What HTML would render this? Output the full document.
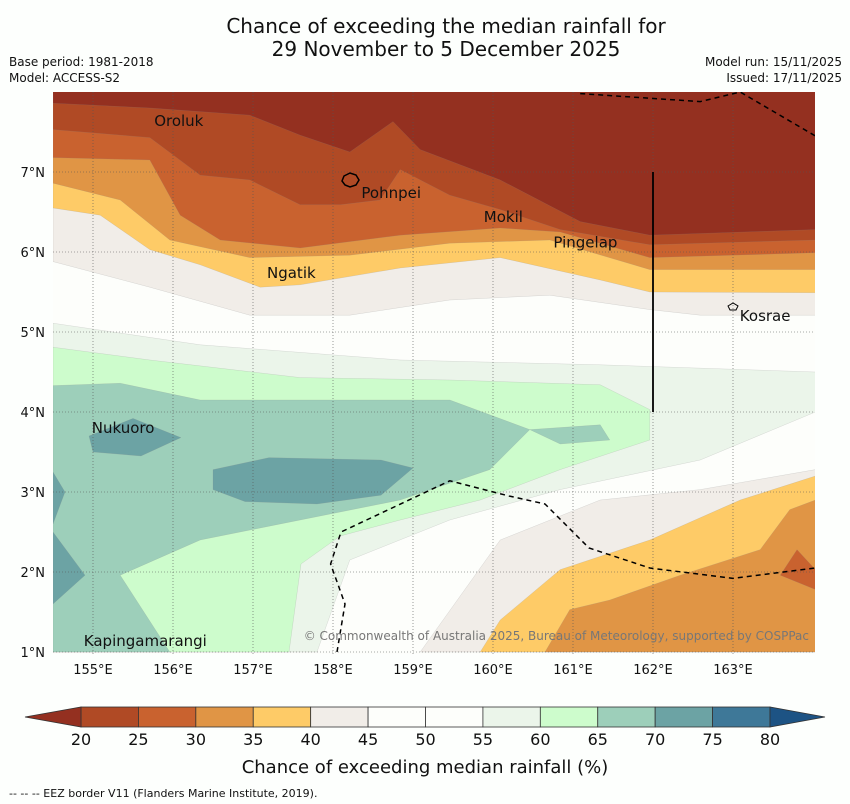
<!DOCTYPE html>
<html><head><meta charset="utf-8">
<style>
body{margin:0;background:#fdfffd;font-family:"Liberation Sans","DejaVu Sans",sans-serif;}
svg{display:block}
</style></head>
<body>
<svg id="chart" width="850" height="804" viewBox="0 0 850 804" xmlns="http://www.w3.org/2000/svg" font-family="'DejaVu Sans','Liberation Sans',sans-serif">
<rect width="850" height="804" fill="#fdfffd"/>
<text x="446" y="33" font-size="20" text-anchor="middle" fill="#111">Chance of exceeding the median rainfall for</text>
<text x="446" y="56" font-size="20" text-anchor="middle" fill="#111">29 November to 5 December 2025</text>
<text x="9" y="66" font-size="12" fill="#111">Base period: 1981-2018</text>
<text x="9" y="82" font-size="12" fill="#111">Model: ACCESS-S2</text>
<text x="842" y="66" font-size="12" text-anchor="end" fill="#111">Model run: 15/11/2025</text>
<text x="842" y="82" font-size="12" text-anchor="end" fill="#111">Issued: 17/11/2025</text>
<defs><clipPath id="mapclip"><rect x="53" y="92" width="762" height="562"/></clipPath></defs>
<g id="map" clip-path="url(#mapclip)">
<rect x="53" y="92" width="762" height="562" fill="#fdfefb"/>
</g>
<g id="cbar"></g>
<text x="425" y="773" font-size="18" text-anchor="middle" fill="#111">Chance of exceeding median rainfall (%)</text>
<text x="9" y="797" font-size="11" fill="#111">--  --  -- EEZ border V11 (Flanders Marine Institute, 2019).</text>
</svg>
<script>
// ---- data ----
const lonTicks=[155,156,157,158,159,160,161,162,163];
const latTicks=[1,2,3,4,5,6,7];
const levels=[20,25,30,35,40,45,50,55,60,65,70,75,80];
const levelColors=["#943020","#b04a25","#c9622f","#e09545","#fecb67","#f1ede8","#fdfefb","#fdfefb","#ebf5ea","#cdfccc","#9dcfba","#6ca3a4","#3e7898","#1d5384"];
const bandTop40=[[154.5,5.88],[155.71,5.56],[156.96,5.21],[158.21,5.21],[159.46,5.4],[160.71,5.46],[161.96,5.28],[162.59,5.21],[164.03,5.21]];
const bandTop35=[[154.5,6.55],[155.09,6.46],[155.71,6.03],[156.34,5.84],[157.09,5.56],[157.59,5.59],[158.84,5.8],[160.09,5.93],[161.34,5.65],[161.96,5.5],[164.03,5.49]];
const bandTop30=[[154.5,6.86],[155.34,6.65],[155.96,6.15],[156.96,5.93],[158.21,5.96],[159.46,6.11],[160.71,6.15],[161.96,5.78],[164.03,5.78]];
const bandTop25=[[154.5,7.18],[155.71,7.15],[156.09,6.46],[156.59,6.15],[157.59,6.05],[158.84,6.21],[160.09,6.3],[160.84,6.25],[161.96,5.93],[164.03,5.99]];
const bandTop20=[[154.5,7.53],[155.71,7.43],[156.34,6.96],[156.96,6.9],[157.59,6.59],[158.09,6.59],[158.59,6.65],[158.84,7.03],[159.46,6.71],[160.09,6.53],[160.84,6.28],[161.96,6.09],[164.03,6.15]];
const bandTopLow=[[154.5,7.86],[155.71,7.8],[156.96,7.71],[157.59,7.46],[158.21,7.25],[158.75,7.63],[159.09,7.28],[160.09,6.9],[161.09,6.38],[161.96,6.21],[164.03,6.28]];
const region55=[[154.5,5.11],[156.34,4.84],[158.84,4.65],[161.34,4.59],[164.03,4.5],[164.03,4.0],[162.59,3.4],[160.84,3.03],[159.46,2.65],[158.21,2.15],[157.8,1.0],[154.5,1.0]];
const region60=[[154.5,4.81],[155.71,4.65],[157.59,4.43],[159.46,4.4],[161.34,4.34],[161.96,4.03],[161.96,3.65],[160.84,3.28],[159.84,2.9],[158.84,2.65],[158.09,2.45],[157.6,2.1],[157.45,1.0],[154.5,1.0]];
const region65=[[154.5,4.33],[155.34,4.36],[156.34,4.15],[158.21,4.15],[159.46,4.15],[160.46,3.78],[159.96,3.28],[158.84,2.9],[157.59,2.65],[156.34,2.4],[155.34,1.96],[155.96,1.0],[154.5,1.0]];
const region65b=[[160.46,3.78],[161.34,3.84],[161.46,3.65],[160.84,3.6]];
const region70a=[[154.95,3.7],[155.5,3.92],[156.1,3.68],[155.6,3.45],[155.0,3.5]];
const region70b=[[156.5,3.28],[157.2,3.43],[158.6,3.4],[159.0,3.3],[158.6,2.96],[157.8,2.85],[156.9,2.88],[156.5,3.03]];
const region70c=[[154.5,3.25],[154.65,3.0],[154.5,2.6]];
const region70d=[[154.5,2.5],[154.9,1.96],[154.5,1.6]];
const regionBR45=[[164.03,3.28],[162.59,3.03],[161.34,2.9],[160.09,2.4],[159.09,1.0],[164.03,1.0]];
const regionBR40=[[164.03,3.2],[163.09,2.9],[161.96,2.4],[160.84,2.03],[160.09,1.4],[159.84,1.0],[164.03,1.0]];
const regionBR35=[[164.03,2.9],[163.71,2.78],[163.34,2.28],[162.34,1.96],[161.46,1.65],[160.96,1.53],[160.65,1.0],[164.03,1.0]];
const regionBR30=[[163.59,1.96],[163.8,2.28],[164.03,2.03],[164.03,1.78]];
const eezA=[[161.09,7.98],[162.59,7.88],[163.09,8.0],[164.03,7.45]];
const eezB=[[158.05,1.0],[158.15,1.6],[157.97,2.1],[158.1,2.5],[159.46,3.14],[160.2,2.95],[160.65,2.85],[161.2,2.3],[161.96,2.05],[163.0,1.92],[164.03,2.05]];
const islandNames=["Oroluk","Pohnpei","Mokil","Pingelap","Ngatik","Kosrae","Nukuoro","Kapingamarangi"];
const islandLon=[155.74,158.33,159.86,160.73,157.15,163.06,154.96,154.86];
const islandLat=[7.64,6.74,6.44,6.12,5.74,5.2,3.8,1.14];
// ---- axes ----
const X=lon=>93+(lon-155)*80;
const Y=lat=>172-(lat-7)*80;
const NS="http://www.w3.org/2000/svg";
const map=document.getElementById('map');
function el(tag,attrs,parent){const e=document.createElementNS(NS,tag);for(const k in attrs)e.setAttribute(k,attrs[k]);(parent||map).appendChild(e);return e;}
function ptsStr(arr){return arr.map(p=>X(p[0]).toFixed(1)+','+Y(p[1]).toFixed(1)).join(' ');}
function topBand(line,color,name){
  const pts=[[154.5,8.3]].concat(line).concat([[164.03,8.3]]);
  const p=el('polygon',{points:ptsStr(pts),fill:color,stroke:'#888',"stroke-width":0.3,"stroke-opacity":0.5});
  
  
}
function region(arr,color,name){
  const p=el('polygon',{points:ptsStr(arr),fill:color,stroke:'#888',"stroke-width":0.3,"stroke-opacity":0.5});
  
  
}
region(region55,levelColors[8],'region-55-60');
region(region60,levelColors[9],'region-60-65');
region(region65,levelColors[10],'region-65-70');
region(region65b,levelColors[10],'region-65-70-patch');
region(region70a,levelColors[11],'region-70-75-nukuoro');
region(region70b,levelColors[11],'region-70-75-central');
region(region70c,levelColors[11],'region-70-75-west-a');
region(region70d,levelColors[11],'region-70-75-west-b');
region(regionBR45,levelColors[5],'region-40-45-southeast');
region(regionBR40,levelColors[4],'region-35-40-southeast');
region(regionBR35,levelColors[3],'region-30-35-southeast');
region(regionBR30,levelColors[2],'region-25-30-southeast');
topBand(bandTop40,levelColors[5],'band-40-45-north');
topBand(bandTop35,levelColors[4],'band-35-40-north');
topBand(bandTop30,levelColors[3],'band-30-35-north');
topBand(bandTop25,levelColors[2],'band-25-30-north');
topBand(bandTop20,levelColors[1],'band-20-25-north');
topBand(bandTopLow,levelColors[0],'band-below-20-north');
lonTicks.forEach(l=>{const g=el('line',{x1:X(l),x2:X(l),y1:92,y2:654,stroke:'#555',"stroke-width":0.6,"stroke-dasharray":"1,2"});

});
latTicks.forEach(l=>{const g=el('line',{x1:53,x2:815,y1:Y(l),y2:Y(l),stroke:'#555',"stroke-width":0.6,"stroke-dasharray":"1,2"});

});
[eezA,eezB].forEach(a=>{const l=el('polyline',{points:ptsStr(a),fill:'none',stroke:'#000',"stroke-width":1.5,"stroke-dasharray":"5,4"});

});
const sl=el('line',{x1:X(162),x2:X(162),y1:Y(7),y2:Y(4),stroke:'#000',"stroke-width":1.8});


const ph=el('path',{d:"M344,176 l6,-3 l6,2 l3,5 l-3,5 l-6,2 l-5,-2 l-3,-4 z",fill:'none',stroke:'#000',"stroke-width":1.5});


const ks=el('path',{d:"M728,306 l5,-3 l5,3 l-2,4 l-6,0 z",fill:'none',stroke:'#000',"stroke-width":1});


islandNames.forEach((n,i)=>{
  const t=el('text',{x:X(islandLon[i])+2,y:Y(islandLat[i])+5,"font-size":15,fill:'#111'});
  t.textContent=n;
  
  
});
const cp=el('text',{x:809,y:640,"font-size":12,"text-anchor":"end",fill:'#777'});
cp.textContent="© Commonwealth of Australia 2025, Bureau of Meteorology, supported by COSPPac";


const svg=document.getElementById('chart');
lonTicks.forEach(l=>{const t=el('text',{x:X(l),y:674,"font-size":13,"text-anchor":"middle",fill:'#111'},svg);t.textContent=l+'°E';

});
latTicks.forEach(l=>{const t=el('text',{x:45,y:Y(l)+5,"font-size":13,"text-anchor":"end",fill:'#111'},svg);t.textContent=l+'°N';

});
const cb=document.getElementById('cbar');
const CX=v=>81+(v-20)*(689/60);
for(let i=0;i<levels.length-1;i++){
  const r=el('rect',{x:CX(levels[i]),y:707,width:CX(levels[i+1])-CX(levels[i]),height:20,fill:levelColors[i+1],stroke:'#333',"stroke-width":0.8},cb);
  
  
}
const la=el('polygon',{points:`25,717 ${CX(20)},707 ${CX(20)},727`,fill:levelColors[0],stroke:'#333',"stroke-width":0.8},cb);


const ra=el('polygon',{points:`825,717 ${CX(80)},707 ${CX(80)},727`,fill:levelColors[13],stroke:'#333',"stroke-width":0.8},cb);


levels.forEach(v=>{const t=el('text',{x:CX(v),y:745,"font-size":16,"text-anchor":"middle",fill:'#111'},cb);t.textContent=v;

});
</script>
</body></html>
